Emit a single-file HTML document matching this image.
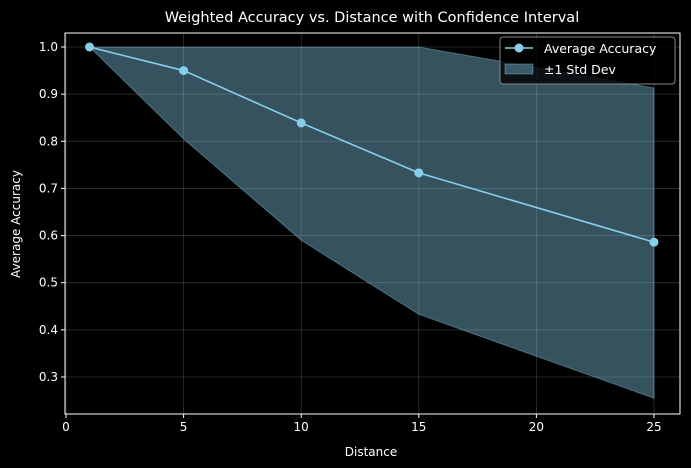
<!DOCTYPE html>
<html><head><meta charset="utf-8"><style>
body{margin:0;background:#000;}
svg{display:block;font-family:"DejaVu Sans","Liberation Sans",sans-serif;}
</style></head><body>
<svg id="chart" width="691" height="468"></svg>
<script>
const distances=[1,5,10,15,25];
const accuracy=[1.0,0.95,0.839,0.733,0.586];
const upperBand=[1.0,1.0,1.0,1.0,0.913];
const lowerBand=[1.0,0.805,0.59,0.433,0.255];
const xTicks=[0,5,10,15,20,25];
const yTicks=[0.3,0.4,0.5,0.6,0.7,0.8,0.9,1.0];
const L=65,R=680,T=33,B=414;
const xs=v=>66+v*23.52;
const ys=v=>47+(1-v)*471.4;
const NS="http://www.w3.org/2000/svg";
const svg=document.getElementById('chart');
function mk(tag,attrs,parent){const e=document.createElementNS(NS,tag);for(const k in attrs)e.setAttribute(k,attrs[k]);(parent||svg).appendChild(e);return e;}
// grid
xTicks.forEach(t=>{const g=mk('line',{x1:xs(t),x2:xs(t),y1:T,y2:B,stroke:'#fff','stroke-opacity':0.2,'stroke-width':0.8});


const tk=mk('line',{x1:xs(t),x2:xs(t),y1:B,y2:B+4,stroke:'#fff'});


const tx=mk('text',{x:xs(t),y:B+17,fill:'#fff','font-size':12,'text-anchor':'middle'});tx.textContent=t;

});
yTicks.forEach(t=>{const g=mk('line',{x1:L,x2:R,y1:ys(t),y2:ys(t),stroke:'#fff','stroke-opacity':0.2,'stroke-width':0.8});


const tk=mk('line',{x1:L-4,x2:L,y1:ys(t),y2:ys(t),stroke:'#fff'});


const tx=mk('text',{x:L-7,y:ys(t)+4,fill:'#fff','font-size':12,'text-anchor':'end'});tx.textContent=t.toFixed(1);

});
// band
let pts=distances.map((d,i)=>xs(d)+','+ys(upperBand[i]));
pts=pts.concat(distances.map((d,i)=>xs(d)+','+ys(lowerBand[i])).reverse());
const band=mk('polygon',{points:pts.join(' '),fill:'#87ceeb','fill-opacity':0.4,stroke:'#87ceeb','stroke-opacity':0.4,'stroke-width':1});


const line=mk('polyline',{points:distances.map((d,i)=>xs(d)+','+ys(accuracy[i])).join(' '),fill:'none',stroke:'#87ceeb','stroke-width':1.6});


distances.forEach((d,i)=>{const c=mk('circle',{cx:xs(d),cy:ys(accuracy[i]),r:4.5,fill:'#87ceeb'});

});
const frame=mk('rect',{x:L,y:T,width:R-L,height:B-T,fill:'none',stroke:'#fff','stroke-width':1});


</script>
<svg width="691" height="468" style="position:absolute;left:0;top:0">
<text x="372" y="22" fill="#fff" font-size="14.5" text-anchor="middle" font-family="DejaVu Sans,Liberation Sans,sans-serif">Weighted Accuracy vs. Distance with Confidence Interval</text>
<text x="371" y="456" fill="#fff" font-size="12" text-anchor="middle" font-family="DejaVu Sans,Liberation Sans,sans-serif">Distance</text>
<text x="20" y="224" fill="#fff" font-size="12" text-anchor="middle" transform="rotate(-90 20 224)" font-family="DejaVu Sans,Liberation Sans,sans-serif">Average Accuracy</text>
<g font-family="DejaVu Sans,Liberation Sans,sans-serif">
<rect x="500" y="37" width="175" height="47" rx="3" fill="#000" fill-opacity="0.8" stroke="#888"/>
<line x1="505" x2="533" y1="48" y2="48" stroke="#87ceeb" stroke-width="1.6"/>
<circle cx="519" cy="48" r="4.5" fill="#87ceeb"/>
<text x="544" y="53" fill="#fff" font-size="12.5">Average Accuracy</text>
<rect x="505" y="64" width="28" height="10" fill="#87ceeb" fill-opacity="0.4" stroke="#87ceeb" stroke-opacity="0.4"/>
<text x="544" y="74" fill="#fff" font-size="12.5">±1 Std Dev</text>
</g>
</svg>
</body></html>
